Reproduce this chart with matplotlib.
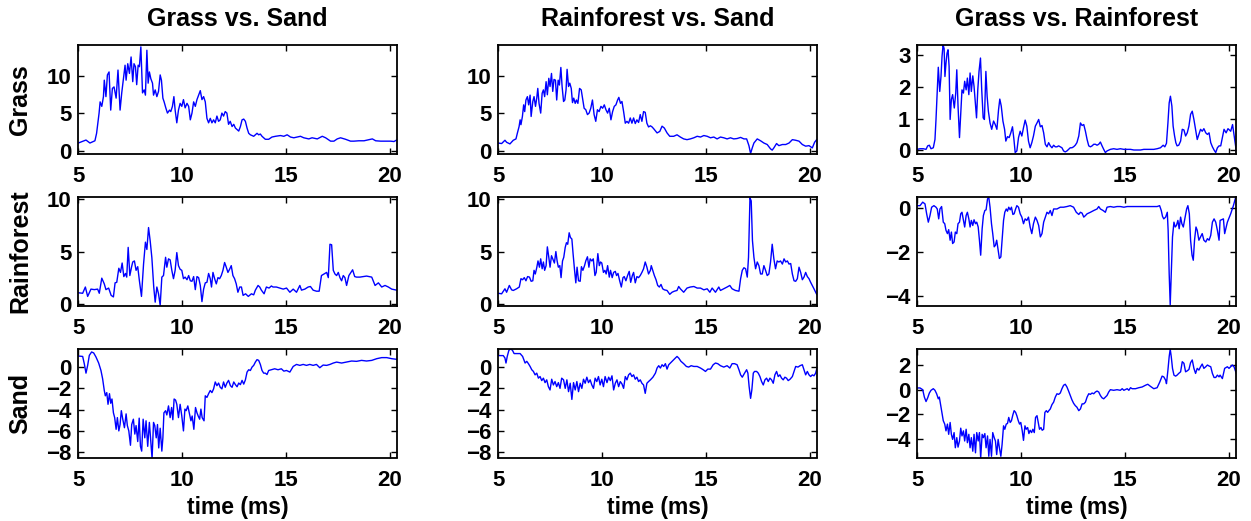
import matplotlib
matplotlib.use('Agg')
import matplotlib.pyplot as plt
import numpy as np

plt.rcParams['font.family'] = ['Liberation Sans', 'DejaVu Sans']
plt.rcParams['font.weight'] = 'bold'
plt.rcParams['axes.titleweight'] = 'bold'
plt.rcParams['axes.labelweight'] = 'bold'

titles = ['Grass vs. Sand', 'Rainforest vs. Sand', 'Grass vs. Rainforest']
row_labels = ['Grass', 'Rainforest', 'Sand']
xticks = [5, 10, 15, 20]

# (time in ms, value), one list per panel
grass_gs = [(5.00,1.0),(5.37,1.4),(5.56,1.0),(5.80,1.3),(5.88,2.3),(6.00,5.0),(6.05,6.5),(6.13,5.9),(6.21,7.2),(6.25,9.4),(6.33,7.2),(6.40,10.1),(6.48,10.5),(6.56,5.4),(6.64,8.3),(6.72,8.5),(6.82,7.0),(6.91,10.75),(7.01,5.4),(7.09,7.7),(7.17,9.6),(7.25,11.4),(7.30,9.4),(7.38,11.6),(7.46,10.3),(7.54,12.5),(7.62,9.2),(7.68,11.6),(7.75,11.2),(7.81,8.8),(7.88,11.4),(7.94,11.2),(8.01,13.85),(8.09,7.7),(8.17,8.1),(8.23,7.4),(8.30,13.4),(8.36,9.0),(8.42,10.5),(8.49,9.6),(8.57,9.0),(8.62,7.4),(8.70,8.1),(8.78,7.2),(8.86,7.9),(8.94,10.1),(9.00,9.4),(9.07,7.0),(9.13,6.5),(9.21,5.7),(9.29,5.0),(9.39,5.4),(9.45,5.2),(9.53,5.9),(9.60,7.2),(9.66,5.4),(9.74,3.7),(9.82,5.4),(9.90,6.3),(9.98,5.9),(10.06,6.8),(10.14,5.7),(10.23,6.3),(10.31,5.9),(10.39,4.1),(10.47,5.0),(10.55,6.5),(10.63,5.9),(10.71,6.8),(10.79,7.4),(10.87,8.0),(10.95,6.8),(11.03,7.2),(11.11,6.5),(11.19,4.3),(11.27,3.7),(11.35,4.3),(11.43,3.7),(11.51,4.1),(11.59,3.7),(11.67,4.6),(11.75,3.9),(11.83,4.1),(11.91,5.0),(11.99,4.6),(12.07,5.2),(12.15,5.0),(12.23,3.5),(12.31,3.9),(12.40,3.2),(12.48,3.5),(12.56,3.0),(12.64,2.8),(12.72,2.6),(12.80,3.2),(12.88,4.1),(12.96,4.2),(13.04,3.9),(13.12,3.0),(13.20,2.3),(13.28,2.1),(13.44,1.9),(13.60,2.3),(13.68,2.1),(13.76,2.2),(13.84,1.9),(14.00,1.5),(14.16,1.5),(14.32,1.8),(14.49,1.9),(14.73,2.0),(14.89,1.9),(15.05,2.1),(15.21,1.8),(15.37,1.7),(15.53,1.8),(15.69,1.9),(15.85,1.7),(16.09,1.55),(16.25,1.7),(16.50,1.55),(16.74,1.9),(16.90,1.7),(17.14,1.25),(17.30,1.25),(17.46,1.55),(17.62,1.7),(17.86,1.5),(18.10,1.25),(18.26,1.25),(18.50,1.3),(18.75,1.3),(18.99,1.45),(19.15,1.55),(19.31,1.3),(19.55,1.25),(19.79,1.25),(20.03,1.25),(20.19,1.2),(20.35,1.45)]

rain_gs = [(5.00,1.05),(5.21,1.0),(5.34,1.6),(5.45,0.7),(5.61,1.4),(5.77,1.35),(5.93,1.4),(6.01,1.0),(6.13,2.45),(6.25,1.9),(6.33,1.35),(6.46,1.5),(6.58,0.8),(6.69,0.65),(6.77,2.0),(6.85,2.05),(6.95,3.4),(7.03,3.0),(7.11,3.9),(7.19,2.6),(7.27,2.9),(7.33,2.55),(7.40,5.4),(7.48,2.7),(7.56,3.5),(7.62,4.0),(7.70,4.1),(7.78,3.2),(7.86,3.55),(7.94,2.2),(8.04,0.7),(8.14,3.8),(8.23,5.9),(8.30,5.2),(8.38,7.3),(8.46,6.0),(8.54,4.4),(8.63,1.6),(8.70,0.15),(8.78,1.6),(8.86,0.95),(8.94,-0.15),(9.02,2.55),(9.10,2.7),(9.20,4.45),(9.26,3.5),(9.34,4.3),(9.42,4.2),(9.50,3.2),(9.58,2.4),(9.66,3.2),(9.74,4.9),(9.82,3.65),(9.90,3.3),(9.98,3.2),(10.06,2.4),(10.14,2.55),(10.23,2.3),(10.31,2.7),(10.39,2.2),(10.47,2.15),(10.55,2.6),(10.63,1.35),(10.71,2.6),(10.79,2.5),(10.87,1.75),(10.95,0.2),(11.03,1.4),(11.11,2.0),(11.19,2.05),(11.27,2.9),(11.35,2.4),(11.41,1.6),(11.48,3.0),(11.56,2.4),(11.64,1.9),(11.72,2.5),(11.80,2.4),(11.88,2.7),(11.96,3.2),(12.04,3.95),(12.12,3.5),(12.20,3.0),(12.28,3.3),(12.36,3.65),(12.44,2.7),(12.52,2.4),(12.60,1.9),(12.68,1.1),(12.77,1.6),(12.85,1.6),(12.93,0.8),(13.05,0.95),(13.18,0.7),(13.33,0.95),(13.44,0.85),(13.52,1.3),(13.65,1.75),(13.73,1.6),(13.81,1.3),(13.94,0.95),(14.05,1.6),(14.18,1.5),(14.29,1.7),(14.37,1.6),(14.53,1.6),(14.69,1.5),(14.86,1.4),(15.02,1.5),(15.18,1.1),(15.34,1.4),(15.50,1.1),(15.66,1.75),(15.74,1.3),(15.90,1.4),(16.06,1.6),(16.17,1.65),(16.30,1.3),(16.46,1.2),(16.59,1.2),(16.70,2.7),(16.87,2.9),(16.95,3.0),(17.03,2.5),(17.11,5.7),(17.19,5.65),(17.27,3.2),(17.35,2.85),(17.43,2.7),(17.51,3.0),(17.59,2.5),(17.67,2.2),(17.75,2.7),(17.83,2.5),(17.91,1.75),(18.02,2.7),(18.20,3.25),(18.30,2.6),(18.39,2.55),(18.55,2.55),(18.71,2.6),(18.87,2.65),(19.12,2.55),(19.28,1.75),(19.44,2.0),(19.60,1.6),(19.76,1.75),(19.92,1.6),(20.08,1.4),(20.32,1.3)]

sand_gs = [(5.00,1.04),(5.21,1.0),(5.29,0.3),(5.37,-0.57),(5.45,0.16),(5.53,1.1),(5.64,1.42),(5.74,1.33),(5.85,0.95),(5.98,0.38),(6.09,-0.32),(6.17,-1.1),(6.25,-2.2),(6.30,-2.7),(6.37,-2.4),(6.43,-3.5),(6.50,-2.5),(6.56,-3.4),(6.62,-3.0),(6.69,-4.3),(6.75,-4.75),(6.82,-5.85),(6.88,-4.75),(6.95,-6.0),(7.01,-5.4),(7.07,-4.1),(7.14,-4.9),(7.22,-5.7),(7.30,-4.4),(7.36,-5.5),(7.43,-6.0),(7.51,-7.35),(7.57,-5.4),(7.65,-4.9),(7.72,-6.3),(7.78,-5.5),(7.86,-7.0),(7.93,-4.8),(7.99,-7.45),(8.05,-7.9),(8.12,-4.9),(8.20,-6.65),(8.26,-5.05),(8.34,-7.45),(8.42,-5.2),(8.49,-7.0),(8.55,-8.6),(8.62,-5.2),(8.68,-5.5),(8.75,-6.65),(8.81,-5.4),(8.87,-7.6),(8.94,-5.75),(9.02,-7.9),(9.07,-6.65),(9.12,-4.3),(9.20,-4.1),(9.26,-4.5),(9.34,-3.65),(9.42,-4.75),(9.49,-3.8),(9.55,-4.95),(9.61,-3.0),(9.68,-3.1),(9.74,-3.5),(9.82,-4.75),(9.90,-3.5),(9.98,-4.6),(10.06,-6.0),(10.13,-3.95),(10.19,-4.1),(10.27,-3.65),(10.35,-4.4),(10.42,-5.05),(10.48,-4.6),(10.56,-5.85),(10.64,-3.8),(10.71,-4.3),(10.77,-4.6),(10.84,-4.9),(10.90,-3.95),(10.96,-4.75),(11.05,-5.05),(11.11,-2.7),(11.19,-2.85),(11.27,-2.5),(11.35,-2.2),(11.43,-2.4),(11.51,-2.05),(11.59,-1.4),(11.67,-1.75),(11.75,-1.5),(11.83,-1.9),(11.91,-2.05),(11.99,-1.4),(12.07,-1.9),(12.15,-1.5),(12.23,-1.25),(12.32,-1.75),(12.40,-1.9),(12.48,-1.4),(12.56,-1.65),(12.64,-1.85),(12.72,-1.5),(12.80,-1.65),(12.88,-1.25),(12.96,-1.6),(13.04,-1.2),(13.12,-0.47),(13.20,-0.25),(13.28,-0.32),(13.36,0.0),(13.44,0.16),(13.52,0.47),(13.60,0.7),(13.68,0.63),(13.76,0.25),(13.84,-0.32),(13.92,-0.57),(14.00,-0.57),(14.08,-0.7),(14.16,-0.32),(14.29,-0.25),(14.45,-0.16),(14.61,-0.25),(14.77,-0.16),(14.89,-0.38),(15.02,-0.32),(15.18,-0.47),(15.34,0.06),(15.50,0.25),(15.66,0.16),(15.82,0.25),(15.98,0.16),(16.14,0.25),(16.30,0.16),(16.46,0.25),(16.62,-0.06),(16.78,0.19),(16.95,0.16),(17.11,0.25),(17.27,0.38),(17.43,0.47),(17.67,0.38),(17.91,0.47),(18.15,0.57),(18.39,0.54),(18.63,0.63),(18.87,0.57),(19.12,0.63),(19.36,0.79),(19.60,0.89),(19.84,0.89),(20.08,0.79),(20.32,0.73)]

grass_rs = [(5.00,1.0),(5.16,0.93),(5.32,1.37),(5.40,1.1),(5.56,0.88),(5.72,1.37),(5.85,1.55),(5.92,2.35),(6.00,3.2),(6.05,4.1),(6.09,3.45),(6.16,4.55),(6.22,6.1),(6.27,5.2),(6.33,6.75),(6.40,7.2),(6.46,6.1),(6.53,7.4),(6.58,4.55),(6.66,6.55),(6.72,7.2),(6.79,5.9),(6.85,7.0),(6.90,8.3),(6.96,6.3),(7.04,5.0),(7.11,7.65),(7.17,8.1),(7.23,7.2),(7.30,9.2),(7.36,7.45),(7.43,9.65),(7.49,8.55),(7.56,10.3),(7.62,7.9),(7.68,9.5),(7.75,9.4),(7.81,6.75),(7.88,9.4),(7.94,8.75),(8.01,11.1),(8.07,8.55),(8.14,6.55),(8.20,6.75),(8.26,8.1),(8.31,10.85),(8.38,8.55),(8.44,9.0),(8.51,8.3),(8.57,6.4),(8.63,7.0),(8.70,6.3),(8.76,6.75),(8.83,6.3),(8.91,8.3),(8.99,8.1),(9.07,6.75),(9.13,5.65),(9.21,5.45),(9.29,4.8),(9.37,5.0),(9.45,5.65),(9.53,6.75),(9.61,4.8),(9.69,3.9),(9.77,5.45),(9.85,5.2),(9.94,5.9),(10.02,5.65),(10.10,6.1),(10.18,5.45),(10.26,5.0),(10.34,5.65),(10.42,4.1),(10.50,5.2),(10.58,5.9),(10.66,6.1),(10.74,6.75),(10.80,7.1),(10.88,6.3),(10.95,6.55),(11.03,5.2),(11.11,3.65),(11.19,3.9),(11.27,3.65),(11.35,4.35),(11.43,3.65),(11.51,4.35),(11.59,3.6),(11.67,4.1),(11.75,3.75),(11.83,4.8),(11.91,3.9),(11.99,5.2),(12.07,5.1),(12.15,3.65),(12.23,3.15),(12.32,3.3),(12.40,3.15),(12.48,2.9),(12.64,2.35),(12.77,2.55),(12.88,3.25),(12.99,3.0),(13.12,2.35),(13.25,1.9),(13.44,1.9),(13.60,2.1),(13.76,1.8),(13.92,1.55),(14.08,1.45),(14.24,1.55),(14.41,1.7),(14.57,1.9),(14.73,1.8),(14.89,2.0),(15.05,1.9),(15.21,1.7),(15.37,1.8),(15.53,1.55),(15.69,1.8),(15.85,1.7),(16.01,1.55),(16.17,1.7),(16.33,1.55),(16.49,1.6),(16.66,1.75),(16.82,1.55),(16.95,1.55),(17.06,0.65),(17.14,-0.4),(17.22,0.35),(17.30,1.0),(17.46,1.55),(17.62,1.3),(17.78,1.0),(17.94,0.8),(18.10,0.22),(18.18,0.05),(18.26,0.35),(18.39,0.93),(18.50,0.65),(18.67,0.8),(18.83,0.8),(18.99,1.0),(19.15,1.45),(19.31,1.37),(19.47,1.25),(19.63,0.8),(19.79,0.58),(19.95,0.65),(20.11,0.35),(20.22,1.1),(20.32,1.45)]

rain_rs = [(5.00,1.0),(5.16,0.95),(5.32,1.43),(5.40,1.1),(5.53,1.75),(5.64,1.33),(5.72,1.27),(5.88,1.43),(6.01,1.6),(6.09,2.4),(6.17,2.3),(6.25,2.5),(6.33,2.2),(6.41,2.6),(6.50,2.55),(6.58,2.15),(6.66,2.2),(6.72,3.2),(6.78,2.85),(6.85,3.45),(6.91,4.1),(6.98,3.5),(7.04,4.3),(7.11,3.35),(7.17,4.0),(7.23,3.2),(7.30,3.65),(7.36,5.45),(7.43,4.45),(7.49,3.5),(7.56,4.6),(7.62,4.3),(7.70,3.9),(7.77,5.0),(7.83,4.1),(7.89,3.5),(7.96,3.65),(8.02,2.5),(8.09,4.1),(8.15,4.45),(8.22,5.4),(8.28,5.85),(8.34,5.7),(8.41,6.8),(8.47,6.35),(8.54,6.2),(8.60,4.75),(8.67,3.2),(8.73,2.0),(8.79,3.5),(8.86,2.2),(8.94,2.15),(9.00,3.55),(9.07,3.2),(9.15,3.65),(9.21,4.1),(9.29,4.5),(9.36,3.5),(9.42,4.3),(9.50,4.1),(9.57,4.3),(9.65,2.7),(9.71,3.0),(9.79,4.8),(9.86,3.65),(9.92,4.0),(9.98,3.9),(10.06,3.0),(10.13,3.2),(10.19,2.85),(10.26,3.65),(10.34,2.55),(10.40,3.2),(10.48,2.5),(10.55,3.0),(10.63,3.1),(10.69,2.7),(10.76,2.9),(10.84,2.2),(10.92,1.6),(11.00,2.5),(11.06,2.6),(11.14,2.2),(11.22,2.7),(11.30,3.1),(11.37,2.05),(11.45,2.7),(11.51,3.0),(11.59,2.0),(11.67,2.6),(11.75,2.5),(11.83,2.7),(11.91,3.0),(11.99,3.35),(12.07,4.0),(12.15,3.5),(12.23,2.85),(12.32,3.2),(12.36,3.65),(12.43,3.2),(12.51,2.7),(12.59,2.3),(12.67,1.75),(12.75,1.6),(12.83,1.85),(12.91,1.43),(12.99,1.33),(13.12,1.27),(13.25,0.9),(13.36,1.1),(13.47,1.2),(13.60,1.27),(13.68,1.65),(13.76,1.43),(13.92,1.1),(14.08,1.5),(14.24,1.6),(14.41,1.65),(14.57,1.5),(14.73,1.5),(14.89,1.33),(15.05,1.43),(15.18,1.1),(15.29,1.5),(15.45,1.1),(15.61,1.6),(15.69,1.27),(15.85,1.43),(16.01,1.6),(16.14,1.75),(16.25,1.43),(16.41,1.27),(16.58,1.2),(16.66,2.4),(16.74,3.2),(16.82,3.45),(16.90,3.35),(16.98,2.55),(17.04,4.45),(17.11,10.15),(17.17,9.85),(17.23,6.05),(17.30,4.45),(17.38,3.35),(17.46,4.0),(17.54,3.65),(17.62,2.85),(17.70,2.85),(17.78,3.65),(17.86,3.2),(17.94,2.7),(18.02,2.85),(18.10,4.0),(18.18,5.7),(18.26,4.3),(18.34,3.35),(18.42,4.1),(18.50,4.0),(18.58,4.1),(18.67,3.8),(18.75,4.3),(18.83,4.0),(18.91,4.1),(18.99,3.8),(19.07,3.85),(19.15,2.85),(19.23,2.2),(19.31,2.15),(19.39,2.4),(19.47,3.5),(19.55,3.0),(19.63,2.3),(19.71,2.55),(19.79,3.0),(19.87,2.6),(19.95,2.4),(20.03,2.05),(20.11,1.75),(20.19,1.43),(20.27,1.1),(20.32,0.9)]

sand_rs = [(5.00,1.08),(5.24,1.08),(5.32,0.85),(5.37,0.38),(5.43,1.0),(5.51,1.58),(5.59,1.71),(5.68,1.58),(5.76,1.27),(5.88,1.27),(6.05,1.27),(6.17,1.0),(6.29,0.38),(6.37,0.54),(6.45,0.32),(6.53,0.06),(6.61,-0.25),(6.69,-0.41),(6.77,-0.73),(6.85,-0.57),(6.93,-1.04),(7.01,-0.89),(7.09,-1.27),(7.17,-1.04),(7.25,-1.46),(7.33,-1.2),(7.41,-1.84),(7.49,-2.15),(7.57,-1.14),(7.65,-1.68),(7.73,-1.36),(7.81,-1.84),(7.89,-1.46),(7.97,-2.0),(8.05,-1.04),(8.14,-1.2),(8.22,-2.0),(8.30,-1.2),(8.38,-2.31),(8.46,-1.52),(8.54,-3.04),(8.62,-1.46),(8.70,-2.15),(8.78,-1.36),(8.86,-2.31),(8.94,-1.52),(9.02,-2.0),(9.10,-1.14),(9.18,-1.52),(9.26,-0.95),(9.34,-1.46),(9.42,-1.2),(9.50,-1.68),(9.58,-2.0),(9.66,-1.04),(9.74,-1.36),(9.82,-0.89),(9.90,-1.68),(9.98,-1.14),(10.06,-1.84),(10.14,-0.89),(10.23,-1.46),(10.31,-0.95),(10.39,-1.27),(10.47,-0.82),(10.55,-2.15),(10.63,-1.52),(10.71,-1.2),(10.79,-1.84),(10.87,-1.36),(10.95,-1.58),(11.03,-2.0),(11.11,-0.89),(11.19,-1.2),(11.27,-0.73),(11.35,-0.57),(11.43,-0.89),(11.51,-0.73),(11.59,-1.14),(11.67,-0.95),(11.75,-1.36),(11.83,-1.2),(11.91,-1.52),(11.99,-1.68),(12.07,-2.47),(12.15,-1.52),(12.23,-1.36),(12.32,-1.2),(12.44,-0.95),(12.56,-0.57),(12.64,-0.09),(12.72,0.13),(12.80,-0.09),(12.88,0.22),(12.96,0.06),(13.04,0.32),(13.12,-0.19),(13.20,0.22),(13.28,0.38),(13.41,0.63),(13.52,0.85),(13.60,1.0),(13.68,0.85),(13.79,0.54),(13.92,0.32),(14.05,0.06),(14.16,0.0),(14.28,0.13),(14.41,0.06),(14.57,0.06),(14.73,-0.09),(14.86,-0.25),(14.97,-0.41),(15.08,-0.19),(15.21,-0.19),(15.34,0.22),(15.45,0.38),(15.56,0.32),(15.69,0.13),(15.85,0.0),(16.01,0.13),(16.14,-0.09),(16.25,0.32),(16.37,0.32),(16.49,0.22),(16.58,-0.25),(16.66,-0.73),(16.74,-0.95),(16.85,-0.57),(16.95,-0.25),(17.01,-0.57),(17.07,-1.84),(17.14,-2.94),(17.20,-2.15),(17.27,-0.57),(17.33,-0.41),(17.43,-0.41),(17.51,-0.57),(17.59,-0.89),(17.67,-1.36),(17.75,-1.68),(17.83,-1.2),(17.91,-1.04),(17.99,-1.36),(18.07,-1.04),(18.15,-1.2),(18.23,-1.52),(18.31,-0.73),(18.39,-0.41),(18.47,-0.89),(18.55,-0.73),(18.63,-1.04),(18.71,-1.2),(18.79,-0.95),(18.87,-1.04),(18.95,-1.27),(19.04,-1.14),(19.15,-0.89),(19.23,-0.41),(19.31,0.06),(19.42,0.0),(19.52,0.13),(19.63,0.22),(19.71,-0.25),(19.79,-0.73),(19.87,-0.41),(19.95,-0.73),(20.03,-0.89),(20.11,-0.73),(20.19,-0.82),(20.27,-0.57),(20.32,-0.19)]

grass_gr = [(5.00,0.03),(5.13,0.05),(5.29,0.05),(5.42,0.03),(5.50,0.14),(5.58,0.16),(5.66,0.05),(5.77,0.08),(5.85,0.34),(5.90,0.97),(5.96,1.9),(6.01,2.61),(6.08,1.85),(6.14,2.32),(6.19,2.95),(6.24,3.31),(6.29,3.2),(6.33,2.32),(6.38,2.74),(6.43,3.05),(6.48,3.16),(6.53,2.64),(6.58,0.97),(6.64,1.6),(6.70,1.75),(6.78,1.33),(6.85,1.8),(6.90,2.53),(6.96,1.39),(7.03,0.4),(7.09,1.18),(7.15,1.9),(7.22,1.8),(7.28,2.17),(7.35,1.9),(7.41,2.27),(7.48,1.75),(7.54,2.43),(7.60,1.85),(7.67,2.34),(7.73,2.01),(7.78,1.6),(7.85,1.02),(7.91,1.9),(7.97,2.48),(8.04,2.9),(8.10,1.9),(8.17,1.02),(8.23,0.97),(8.30,2.48),(8.36,1.7),(8.42,1.23),(8.50,0.86),(8.58,0.66),(8.67,0.92),(8.75,0.81),(8.83,0.66),(8.91,1.28),(8.97,1.61),(9.04,1.39),(9.12,0.92),(9.20,0.66),(9.26,0.29),(9.34,0.43),(9.42,0.4),(9.50,0.55),(9.58,0.74),(9.65,0.34),(9.71,-0.07),(9.79,-0.02),(9.87,0.4),(9.95,0.6),(10.03,0.45),(10.11,0.71),(10.19,0.95),(10.27,0.76),(10.35,0.29),(10.43,0.08),(10.51,0.24),(10.59,0.45),(10.68,0.76),(10.76,0.86),(10.84,0.97),(10.92,0.74),(11.00,0.78),(11.08,0.55),(11.16,0.19),(11.24,0.11),(11.32,0.24),(11.40,0.14),(11.48,0.08),(11.56,0.16),(11.64,0.11),(11.72,0.11),(11.80,0.14),(11.88,0.11),(11.96,0.08),(12.04,-0.02),(12.12,-0.05),(12.20,-0.02),(12.28,0.03),(12.36,0.08),(12.44,0.08),(12.52,0.11),(12.60,0.16),(12.68,0.24),(12.77,0.45),(12.85,0.86),(12.93,0.78),(13.01,0.81),(13.09,0.6),(13.17,0.34),(13.25,0.14),(13.33,0.11),(13.41,0.14),(13.49,0.19),(13.57,0.19),(13.65,0.16),(13.73,0.19),(13.81,0.26),(13.89,0.14),(13.97,0.03),(14.05,-0.07),(14.13,-0.02),(14.29,0.03),(14.45,0.05),(14.61,0.03),(14.77,0.05),(14.94,0.03),(15.10,0.03),(15.26,0.03),(15.42,0.01),(15.58,0.01),(15.74,0.01),(15.90,0.03),(16.06,0.03),(16.22,0.03),(16.38,0.03),(16.54,0.05),(16.70,0.08),(16.83,0.16),(16.91,0.11),(16.99,0.22),(17.06,0.86),(17.12,1.49),(17.18,1.7),(17.25,1.39),(17.31,0.76),(17.38,0.45),(17.44,0.24),(17.50,0.14),(17.58,0.16),(17.67,0.29),(17.75,0.66),(17.83,0.64),(17.91,0.45),(17.99,0.55),(18.07,0.76),(18.15,1.13),(18.23,1.23),(18.31,0.97),(18.39,0.66),(18.47,0.34),(18.55,0.5),(18.63,0.66),(18.71,0.6),(18.79,0.68),(18.88,0.55),(18.96,0.5),(19.04,0.55),(19.12,0.24),(19.20,0.11),(19.28,0.01),(19.36,-0.07),(19.44,0.08),(19.52,0.14),(19.60,0.14),(19.76,0.66),(19.86,0.55),(19.95,0.68),(20.08,0.6),(20.17,0.81),(20.27,0.34),(20.35,-0.02)]

rain_gr = [(5.00,0.1),(5.13,0.1),(5.26,0.26),(5.37,0.18),(5.45,-0.27),(5.53,-0.65),(5.61,-0.35),(5.69,0.03),(5.80,0.1),(5.90,0.03),(5.96,-0.05),(6.03,-0.5),(6.09,-0.05),(6.17,0.06),(6.25,-0.65),(6.32,-0.72),(6.38,-1.02),(6.45,-1.17),(6.51,-0.99),(6.58,-1.47),(6.64,-1.1),(6.70,-1.62),(6.77,-1.55),(6.83,-1.1),(6.90,-1.17),(6.96,-0.72),(7.03,-0.65),(7.09,-0.27),(7.15,-0.2),(7.22,-0.57),(7.28,-0.87),(7.35,-0.35),(7.41,-0.2),(7.48,-0.5),(7.54,-0.87),(7.60,-0.57),(7.67,-0.8),(7.73,-0.54),(7.80,-0.72),(7.86,-0.65),(7.93,-0.87),(7.99,-1.47),(8.05,-2.15),(8.12,-0.95),(8.18,-0.35),(8.25,-0.12),(8.31,-0.09),(8.38,0.41),(8.44,0.48),(8.50,0.03),(8.57,-0.72),(8.63,-1.17),(8.70,-1.77),(8.76,-1.7),(8.82,-1.47),(8.89,-1.92),(8.95,-2.3),(9.02,-2.23),(9.08,-1.47),(9.15,-0.57),(9.21,-0.2),(9.28,-0.05),(9.34,-0.15),(9.40,0.03),(9.47,-0.09),(9.53,0.03),(9.60,-0.3),(9.66,-0.27),(9.73,-0.05),(9.79,0.1),(9.87,0.03),(9.95,-0.27),(10.03,-0.42),(10.11,-0.72),(10.19,-0.5),(10.27,-0.57),(10.35,-0.42),(10.43,-0.87),(10.51,-1.17),(10.59,-0.72),(10.68,-0.42),(10.76,-0.57),(10.84,-0.8),(10.92,-1.32),(11.00,-1.17),(11.08,-0.65),(11.16,-0.42),(11.24,-0.2),(11.32,-0.27),(11.40,-0.12),(11.48,-0.35),(11.56,-0.05),(11.72,-0.05),(11.88,0.03),(12.04,0.03),(12.20,0.06),(12.36,0.1),(12.52,0.03),(12.65,-0.2),(12.77,-0.3),(12.85,-0.2),(12.93,-0.24),(13.01,-0.42),(13.09,-0.35),(13.17,-0.27),(13.33,-0.2),(13.49,-0.12),(13.65,-0.05),(13.73,0.06),(13.81,-0.05),(13.94,-0.12),(14.05,-0.2),(14.13,0.03),(14.29,0.06),(14.45,0.03),(14.61,0.06),(14.77,0.06),(14.94,0.03),(15.10,0.06),(15.26,0.06),(15.42,0.06),(15.58,0.06),(15.74,0.06),(15.90,0.06),(16.06,0.06),(16.22,0.06),(16.38,0.06),(16.54,0.06),(16.66,0.1),(16.74,-0.12),(16.80,-0.39),(16.86,-0.5),(16.95,-0.42),(17.03,-0.2),(17.07,-1.02),(17.12,-2.98),(17.17,-4.41),(17.22,-2.98),(17.28,-1.32),(17.35,-0.65),(17.41,-0.87),(17.47,-0.8),(17.54,-0.57),(17.60,-0.95),(17.67,-0.42),(17.73,-0.72),(17.80,-0.87),(17.86,-0.57),(17.96,-0.05),(18.02,0.1),(18.09,-0.27),(18.15,-1.47),(18.22,-2.15),(18.28,-2.38),(18.34,-1.47),(18.41,-0.87),(18.47,-1.02),(18.55,-1.47),(18.63,-1.32),(18.71,-1.17),(18.79,-1.47),(18.88,-1.55),(18.96,-1.4),(19.04,-1.47),(19.12,-1.25),(19.20,-0.65),(19.28,-0.5),(19.36,-0.65),(19.44,-1.02),(19.52,-1.47),(19.57,-0.57),(19.73,-0.5),(19.79,-1.17),(19.92,-0.65),(20.08,-0.27),(20.21,0.1),(20.32,0.48)]

sand_gr = [(5.00,0.14),(5.13,0.14),(5.26,0.0),(5.34,-0.6),(5.42,-0.96),(5.50,-0.66),(5.58,-0.27),(5.66,-0.05),(5.77,0.08),(5.85,-0.05),(5.93,-0.33),(6.01,-0.74),(6.06,-0.6),(6.13,-1.29),(6.19,-1.84),(6.25,-2.52),(6.32,-2.79),(6.38,-3.34),(6.45,-2.79),(6.51,-3.62),(6.58,-2.66),(6.64,-3.62),(6.70,-4.03),(6.77,-3.48),(6.83,-4.71),(6.90,-3.89),(6.96,-4.66),(7.03,-4.16),(7.09,-3.12),(7.15,-3.75),(7.22,-3.34),(7.28,-4.16),(7.35,-3.21),(7.41,-4.3),(7.48,-3.62),(7.54,-4.71),(7.60,-3.89),(7.67,-4.99),(7.73,-3.62),(7.80,-5.12),(7.86,-3.48),(7.93,-4.16),(7.99,-3.48),(8.05,-5.53),(8.12,-3.62),(8.18,-3.89),(8.25,-3.56),(8.31,-4.71),(8.38,-3.75),(8.44,-5.4),(8.50,-4.03),(8.57,-5.4),(8.63,-3.48),(8.70,-3.89),(8.76,-4.16),(8.82,-5.26),(8.89,-4.03),(8.95,-4.71),(9.02,-5.4),(9.08,-4.44),(9.15,-2.93),(9.21,-3.21),(9.28,-2.79),(9.34,-2.74),(9.40,-2.25),(9.47,-2.66),(9.53,-2.52),(9.60,-2.03),(9.66,-1.7),(9.73,-1.84),(9.79,-2.11),(9.86,-2.52),(9.92,-2.79),(9.98,-2.66),(10.05,-3.34),(10.11,-4.11),(10.18,-2.93),(10.24,-3.21),(10.31,-3.07),(10.37,-3.56),(10.43,-3.29),(10.50,-3.48),(10.56,-3.21),(10.63,-3.48),(10.69,-2.25),(10.76,-2.11),(10.82,-2.66),(10.88,-3.21),(10.95,-3.07),(11.01,-3.29),(11.08,-3.21),(11.14,-1.84),(11.21,-1.7),(11.27,-1.84),(11.33,-1.7),(11.40,-1.56),(11.48,-1.21),(11.56,-1.01),(11.64,-0.6),(11.72,-0.33),(11.80,-0.38),(11.88,-0.27),(11.96,0.08),(12.04,0.36),(12.12,0.44),(12.20,0.22),(12.28,-0.11),(12.36,-0.47),(12.44,-0.82),(12.52,-1.1),(12.60,-1.29),(12.68,-1.42),(12.77,-1.7),(12.85,-1.56),(12.93,-1.15),(13.01,-1.15),(13.09,-1.01),(13.17,-0.6),(13.25,-0.33),(13.33,-0.38),(13.41,-0.27),(13.49,-0.33),(13.57,-0.19),(13.65,-0.11),(13.73,-0.19),(13.81,-0.47),(13.89,-0.66),(13.97,-0.74),(14.05,-0.6),(14.13,-0.47),(14.21,-0.19),(14.29,0.0),(14.45,-0.05),(14.61,0.0),(14.77,-0.05),(14.86,0.08),(14.94,-0.05),(15.10,0.08),(15.18,-0.05),(15.26,0.16),(15.34,0.08),(15.50,0.08),(15.66,0.16),(15.82,0.22),(15.98,0.36),(16.09,0.44),(16.22,0.27),(16.38,0.08),(16.54,0.16),(16.67,0.63),(16.78,1.1),(16.86,1.04),(16.95,0.77),(16.99,0.49),(17.06,1.59),(17.12,2.68),(17.17,3.29),(17.22,2.68),(17.28,1.73),(17.35,1.18),(17.43,1.1),(17.50,1.18),(17.58,1.32),(17.67,1.45),(17.75,2.27),(17.83,2.14),(17.91,1.45),(17.99,1.53),(18.07,1.64),(18.15,2.19),(18.23,2.41),(18.31,1.73),(18.39,1.32),(18.47,1.73),(18.55,1.59),(18.63,1.86),(18.71,2.08),(18.79,1.73),(18.88,1.86),(18.96,2.0),(19.04,1.92),(19.12,1.86),(19.20,1.32),(19.28,0.99),(19.36,0.99),(19.44,1.18),(19.52,1.04),(19.57,1.18),(19.68,0.9),(19.79,1.73),(19.92,1.86),(20.00,1.73),(20.16,2.0),(20.24,1.86),(20.35,1.32)]

panels = [[grass_gs, grass_rs, grass_gr],
          [rain_gs, rain_rs, rain_gr],
          [sand_gs, sand_rs, sand_gr]]
ylims = [[(-0.4, 14.1), (-0.4, 14.1), (-0.1, 3.31)],
         [(-0.2, 10.2), (-0.2, 10.2), (-4.45, 0.48)],
         [(-8.5, 1.7), (-8.5, 1.7), (-5.5, 3.3)]]
yticks = [[[0, 5, 10], [0, 5, 10], [0, 1, 2, 3]],
          [[0, 5, 10], [0, 5, 10], [-4, -2, 0]],
          [[-8, -6, -4, -2, 0], [-8, -6, -4, -2, 0], [-4, -2, 0, 2]]]

W, H = 1251, 521
fig = plt.figure(figsize=(W / 100, H / 100), dpi=100)

lefts = [78.3, 498.3, 917.3]
tops = [45, 197.3, 349]
aw, ah = 319, 108.5

for i in range(3):
    for j in range(3):
        ax = fig.add_axes([lefts[j] / W, 1 - (tops[i] + ah) / H, aw / W, ah / H])
        t, v = np.array(panels[i][j]).T
        ax.plot(t, v, color='#0000ff', lw=1.0)
        ax.set_xlim(5, 20.35)
        ax.set_ylim(*ylims[i][j])
        ax.set_xticks(xticks)
        ax.set_yticks(yticks[i][j])
        ax.tick_params(direction='in', top=True, right=True, length=4, width=1,
                       labelsize=16)
        ax.tick_params(axis='x', pad=9)
        ax.tick_params(axis='y', pad=5)
        for s in ax.spines.values():
            s.set_linewidth(1.3)
        if i == 0:
            ax.set_title(titles[j], fontsize=18, pad=13.7)
        if j == 0:
            ax.set_ylabel(row_labels[i], fontsize=18)
            ax.yaxis.set_label_coords(-0.145, 0.5)
        if i == 2:
            ax.set_xlabel('time (ms)', fontsize=16.5)
            ax.xaxis.set_label_coords(0.5, -0.355)

fig.savefig('out.png', dpi=100)
